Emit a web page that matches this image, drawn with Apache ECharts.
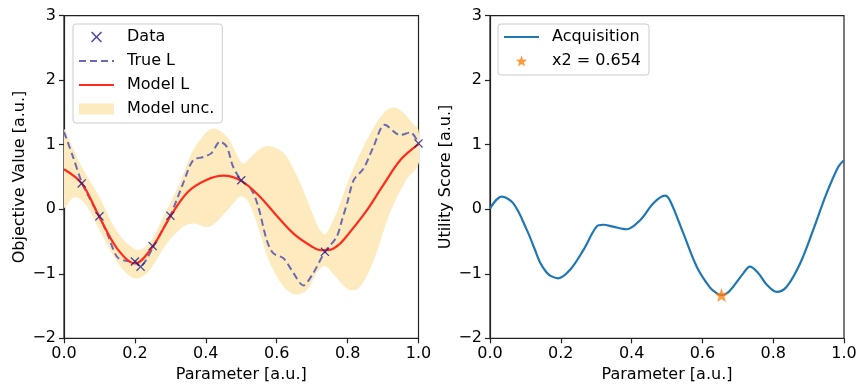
<!DOCTYPE html>
<html>
<head>
<meta charset="utf-8">
<script src="https://cdn.jsdelivr.net/npm/echarts@6/dist/echarts.min.js"></script>
<style>html,body{margin:0;padding:0;background:#fff}#c{width:859px;height:385px}</style>
</head>
<body>
<div id="c"></div>
<script>
// ---- data ----
const dataX = [0.05, 0.1, 0.2, 0.216, 0.25, 0.3, 0.5, 0.736, 1.0];
const dataY = [0.40, -0.11, -0.81, -0.89, -0.57, -0.10, 0.45, -0.66, 1.02];

const trueX = [0, 0.025, 0.05, 0.075, 0.1, 0.125, 0.15, 0.175, 0.2, 0.215, 0.23, 0.25, 0.275, 0.3, 0.336, 0.364, 0.393, 0.416, 0.44, 0.459, 0.477, 0.5, 0.529, 0.548, 0.572, 0.59, 0.619, 0.642, 0.675, 0.703, 0.736, 0.769, 0.784, 0.8, 0.817, 0.845, 0.873, 0.905, 0.948, 0.977, 1.0];
const trueY = [1.2, 0.82, 0.42, 0.14, -0.11, -0.42, -0.74, -0.8, -0.81, -0.89, -0.8, -0.6, -0.35, -0.1, 0.4, 0.76, 0.81, 0.87, 1.05, 0.97, 0.66, 0.45, 0.3, 0.04, -0.48, -0.68, -0.76, -0.94, -1.18, -0.99, -0.66, -0.43, -0.17, 0.12, 0.45, 0.63, 0.97, 1.31, 1.15, 1.19, 1.03];

const modelX = [0, 0.05, 0.1, 0.15, 0.2, 0.25, 0.3, 0.35, 0.4, 0.45, 0.5, 0.55, 0.6, 0.65, 0.7, 0.725, 0.75, 0.775, 0.8, 0.85, 0.9, 0.95, 1.0];
const modelY = [0.62, 0.40, -0.12, -0.61, -0.84, -0.58, -0.11, 0.27, 0.45, 0.52, 0.44, 0.21, -0.10, -0.39, -0.58, -0.635, -0.63, -0.55, -0.40, -0.05, 0.37, 0.77, 1.01];

const uncUpX = [0, 0.025, 0.05, 0.1, 0.15, 0.2, 0.225, 0.25, 0.28, 0.3, 0.33, 0.355, 0.383, 0.42, 0.46, 0.49, 0.505, 0.525, 0.555, 0.58, 0.62, 0.645, 0.67, 0.705, 0.72, 0.736, 0.755, 0.77, 0.81, 0.855, 0.9, 0.93, 0.96, 0.985, 1.0];
const uncUpY = [1.23, 0.95, 0.66, 0.19, -0.35, -0.62, -0.6, -0.45, -0.12, 0.1, 0.45, 0.81, 1.07, 1.25, 1.12, 0.82, 0.71, 0.8, 0.94, 0.98, 0.87, 0.65, 0.36, -0.12, -0.3, -0.39, -0.22, -0.04, 0.55, 1.08, 1.48, 1.58, 1.48, 1.32, 1.23];
const uncLoX = [0, 0.026, 0.05, 0.075, 0.1, 0.148, 0.186, 0.21, 0.242, 0.29, 0.336, 0.365, 0.41, 0.46, 0.49, 0.5, 0.515, 0.53, 0.553, 0.58, 0.62, 0.655, 0.685, 0.713, 0.736, 0.765, 0.805, 0.835, 0.873, 0.92, 0.965, 1.0];
const uncLoY = [0.03, 0.18, 0.14, -0.05, -0.32, -0.8, -1.04, -1.07, -0.94, -0.53, -0.27, -0.22, -0.27, -0.02, 0.17, 0.2, 0.15, 0.0, -0.37, -0.82, -1.2, -1.32, -1.25, -0.99, -0.88, -1.04, -1.25, -1.2, -0.8, -0.05, 0.45, 0.7];

const acqX = [0, 0.033, 0.066, 0.104, 0.125, 0.141, 0.16, 0.174, 0.193, 0.226, 0.264, 0.301, 0.32, 0.348, 0.386, 0.424, 0.461, 0.494, 0.508, 0.546, 0.584, 0.621, 0.64, 0.654, 0.67, 0.687, 0.716, 0.734, 0.758, 0.782, 0.81, 0.838, 0.876, 0.913, 0.951, 0.984, 1.0];
const acqY = [0.01, 0.195, 0.09, -0.32, -0.6, -0.82, -0.98, -1.04, -1.07, -0.94, -0.63, -0.27, -0.24, -0.27, -0.31, -0.17, 0.09, 0.21, 0.14, -0.37, -0.89, -1.21, -1.3, -1.33, -1.3, -1.2, -0.99, -0.89, -0.99, -1.17, -1.28, -1.2, -0.84, -0.32, 0.25, 0.66, 0.76];

const nextX = [0.654];
const nextY = [-1.33];

const xTicks = [0, 0.2, 0.4, 0.6, 0.8, 1.0];
const yTicks = [-2, -1, 0, 1, 2, 3];

// ---- chart ----
const FONT = 'DejaVu Sans';
const FS = 16;
const zip = (a, b) => a.map((v, i) => [v, b[i]]);
const X_PATH = 'path://M0,1 L1,0 L5,4 L9,0 L10,1 L6,5 L10,9 L9,10 L5,6 L1,10 L0,9 L4,5 Z';
const STAR_PATH = 'path://M50,0 L61.76,33.82 L97.55,34.55 L69.02,56.18 L79.39,90.45 L50,70 L20.61,90.45 L30.98,56.18 L2.45,34.55 L38.24,33.82 Z';
const minusFmt = v => (v < 0 ? '\u2212' + Math.abs(v) : String(v));

function xAxis(gi) {
  return {
    type: 'value', gridIndex: gi, min: xTicks[0], max: xTicks[xTicks.length - 1], interval: 0.2,
    name: 'Parameter [a.u.]', nameLocation: 'middle', nameGap: 28,
    nameTextStyle: { fontFamily: FONT, fontSize: FS, color: '#000' },
    axisLine: { show: true, onZero: false, lineStyle: { color: '#222', width: 1.2 } },
    axisTick: { show: true, inside: false, length: 5, lineStyle: { color: '#222', width: 1.2 } },
    axisLabel: { fontFamily: FONT, fontSize: FS, color: '#000', margin: 8, formatter: v => v.toFixed(1) },
    splitLine: { show: false }
  };
}
function yAxis(gi, name) {
  return {
    type: 'value', gridIndex: gi, min: yTicks[0], max: yTicks[yTicks.length - 1], interval: 1,
    name: name, nameLocation: 'middle', nameGap: 36, nameRotate: 90,
    nameTextStyle: { fontFamily: FONT, fontSize: FS, color: '#000' },
    axisLine: { show: true, onZero: false, lineStyle: { color: '#222', width: 1.2 } },
    axisTick: { show: true, inside: false, length: 5, lineStyle: { color: '#222', width: 1.2 } },
    axisLabel: { fontFamily: FONT, fontSize: FS, color: '#000', margin: 8, formatter: minusFmt },
    splitLine: { show: false }
  };
}
const legendCommon = {
  orient: 'vertical', itemWidth: 35, itemHeight: 11, itemGap: 8,
  padding: [5, 8, 6, 5],
  backgroundColor: 'rgba(255,255,255,0.8)', borderColor: '#cccccc', borderWidth: 1, borderRadius: 3,
  textStyle: { fontFamily: FONT, fontSize: FS, color: '#000', padding: [0, 0, 0, 8] }
};
const noSym = { color: 'transparent', borderWidth: 0 };

const chart = echarts.init(document.getElementById('c'), null, { renderer: 'canvas' });
chart.setOption({
  animation: false,
  grid: [
    { left: 64, right: 440.5, top: 15.7, bottom: 46.7, show: true, borderColor: '#222', borderWidth: 1.2, containLabel: false, outerBoundsMode: 'none' },
    { left: 490, right: 15, top: 15.7, bottom: 46.7, show: true, borderColor: '#222', borderWidth: 1.2, containLabel: false, outerBoundsMode: 'none' }
  ],
  xAxis: [xAxis(0), xAxis(1)],
  yAxis: [yAxis(0, 'Objective Value [a.u.]'), yAxis(1, 'Utility Score [a.u.]')],
  legend: [
    Object.assign({}, legendCommon, {
      left: 73, top: 24,
      data: [
        { name: 'Data' },
        { name: 'True L', itemStyle: noSym },
        { name: 'Model L', itemStyle: noSym },
        { name: 'Model unc.', icon: 'rect' }
      ]
    }),
    Object.assign({}, legendCommon, {
      left: 498, top: 24,
      data: [{ name: 'Acquisition', itemStyle: noSym }, { name: 'x2 = 0.654' }]
    })
  ],
  series: [
    {
      name: 'Model unc.', type: 'custom', xAxisIndex: 0, yAxisIndex: 0, z: 1, clip: true,
      itemStyle: { color: '#fdebbf' },
      data: [[0, 0]],
      renderItem: function (params, api) {
        const pts = [];
        for (let i = 0; i < uncUpX.length; i++) pts.push(api.coord([uncUpX[i], uncUpY[i]]));
        for (let i = uncLoX.length - 1; i >= 0; i--) pts.push(api.coord([uncLoX[i], uncLoY[i]]));
        return { type: 'polygon', shape: { points: pts, smooth: 0.35 }, style: { fill: '#fdebbf' } };
      }
    },
    {
      name: 'True L', type: 'line', xAxisIndex: 0, yAxisIndex: 0, z: 3,
      data: zip(trueX, trueY), smooth: 0.3, symbol: 'none',
      itemStyle: { color: '#6a6ab4' },
      lineStyle: { color: '#6a6ab4', width: 2, type: [7, 4] }
    },
    {
      name: 'Model L', type: 'line', xAxisIndex: 0, yAxisIndex: 0, z: 4,
      data: zip(modelX, modelY), smooth: 0.35, symbol: 'none',
      itemStyle: { color: '#ff2b1c' },
      lineStyle: { color: '#ff2b1c', width: 2.2 }
    },
    {
      name: 'Data', type: 'scatter', xAxisIndex: 0, yAxisIndex: 0, z: 5,
      data: zip(dataX, dataY), symbol: X_PATH, symbolSize: 9,
      itemStyle: { color: '#1a1a8c' }
    },
    {
      name: 'Acquisition', type: 'line', xAxisIndex: 1, yAxisIndex: 1, z: 3,
      data: zip(acqX, acqY), smooth: 0.35, symbol: 'none',
      itemStyle: { color: '#1f77b4' },
      lineStyle: { color: '#1f77b4', width: 2.2 }
    },
    {
      name: 'x2 = 0.654', type: 'scatter', xAxisIndex: 1, yAxisIndex: 1, z: 5,
      data: zip(nextX, nextY), symbol: STAR_PATH, symbolSize: 14,
      itemStyle: { color: '#ff7f0e' }
    }
  ]
});
</script>
</body>
</html>
